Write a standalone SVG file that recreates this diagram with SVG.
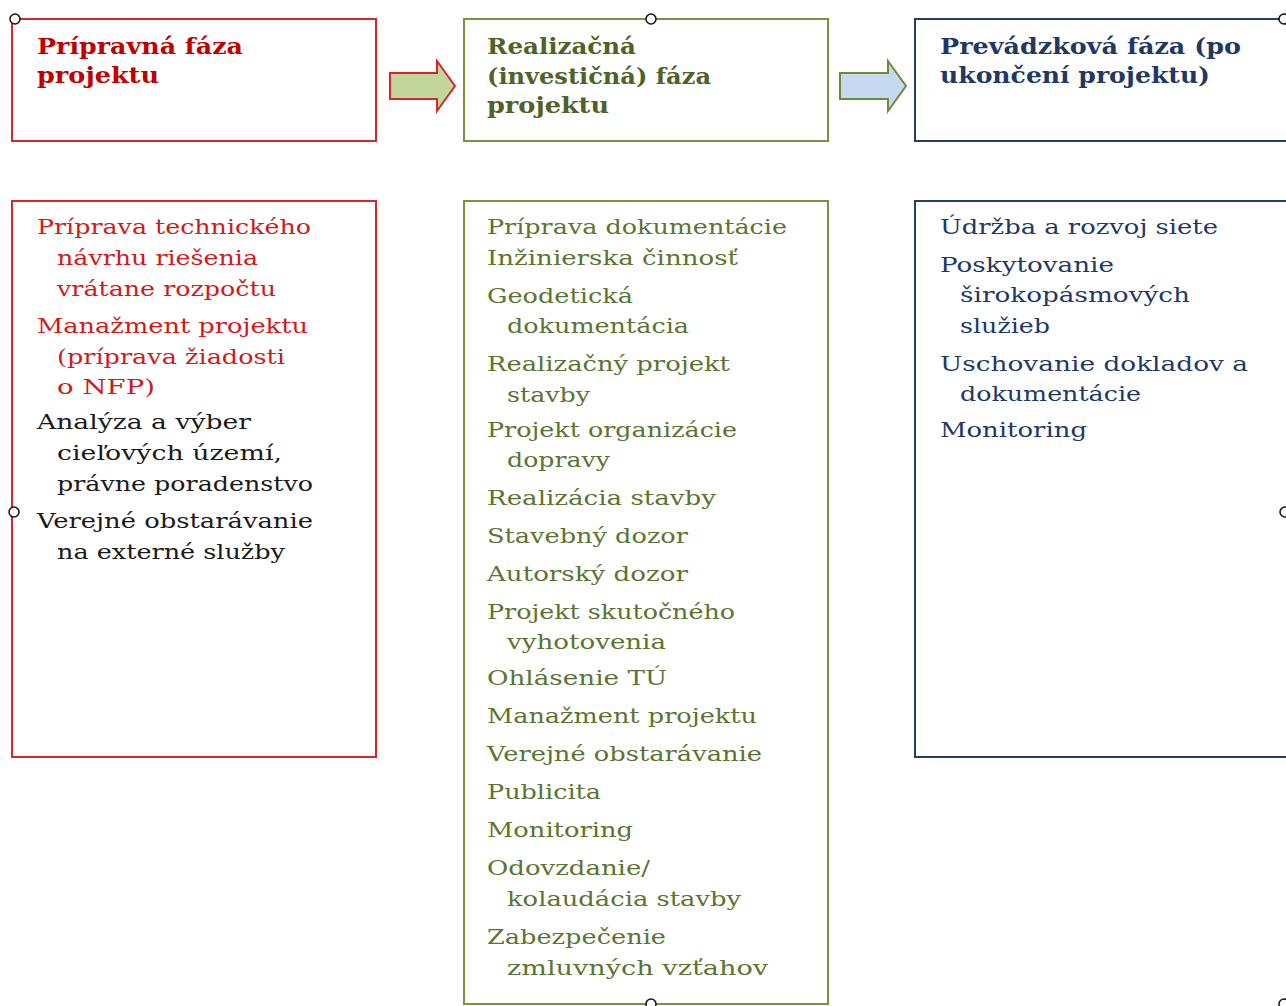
<svg xmlns="http://www.w3.org/2000/svg" width="1286" height="1006" viewBox="0 0 1286 1006">
<style>
.box{fill:#fff;stroke-width:2}
.r{stroke:#d4262b}.g{stroke:#77933c}.b{stroke:#243f60}
text{font-family:"DejaVu Serif","Liberation Serif",serif;font-size:21px}
.t{font-weight:bold;font-size:22px}
.tr{fill:#c00000}.tg{fill:#4f6228}.tb{fill:#1f3864}
.br{fill:#d01a1a}.bk{fill:#1a1a1a}.bg{fill:#5b7431}.bb{fill:#1f3864}
.h{fill:#fff;stroke:#111;stroke-width:1.5}
</style>
<rect width="1286" height="1006" fill="#fff"/>
<g id="phase1">
<rect class="box r" x="12" y="19" width="364" height="122"/>
<text class="t tr" x="37" y="54" textLength="206" lengthAdjust="spacingAndGlyphs">Prípravná fáza</text>
<text class="t tr" x="37" y="83" textLength="122" lengthAdjust="spacingAndGlyphs">projektu</text>
</g>
<g id="phase2">
<rect class="box g" x="464" y="19" width="364" height="122"/>
<text class="t tg" x="487" y="54" textLength="149" lengthAdjust="spacingAndGlyphs">Realizačná</text>
<text class="t tg" x="487" y="84" textLength="224" lengthAdjust="spacingAndGlyphs">(investičná) fáza</text>
<text class="t tg" x="487" y="113" textLength="122" lengthAdjust="spacingAndGlyphs">projektu</text>
</g>
<g id="phase3">
<rect class="box b" x="915" y="19" width="372" height="122"/>
<text class="t tb" x="940" y="54" textLength="301" lengthAdjust="spacingAndGlyphs">Prevádzková fáza (po</text>
<text class="t tb" x="940" y="83" textLength="270" lengthAdjust="spacingAndGlyphs">ukončení projektu)</text>
</g>
<g id="connectors">
<polygon points="390,73 437,73 437,61 455,86 437,111 437,99 390,99" fill="#c3d69b" stroke="#d4262b" stroke-width="2" stroke-linejoin="miter"/>
<polygon points="840,73 888,73 888,61 906,86 888,111 888,99 840,99" fill="#c6d9f1" stroke="#6b8a3a" stroke-width="2"/>
</g>
<g id="list1">
<rect class="box r" x="12" y="201" width="364" height="556"/>
<text class="br" x="37" y="234" textLength="274" lengthAdjust="spacingAndGlyphs">Príprava technického</text>
<text class="br" x="57" y="265" textLength="201" lengthAdjust="spacingAndGlyphs">návrhu riešenia</text>
<text class="br" x="57" y="296" textLength="219" lengthAdjust="spacingAndGlyphs">vrátane rozpočtu</text>
<text class="br" x="37" y="333" textLength="271" lengthAdjust="spacingAndGlyphs">Manažment projektu</text>
<text class="br" x="57" y="364" textLength="228" lengthAdjust="spacingAndGlyphs">(príprava žiadosti</text>
<text class="br" x="57" y="394" textLength="98" lengthAdjust="spacingAndGlyphs">o NFP)</text>
<text class="bk" x="37" y="429" textLength="214" lengthAdjust="spacingAndGlyphs">Analýza a výber</text>
<text class="bk" x="57" y="460" textLength="225" lengthAdjust="spacingAndGlyphs">cieľových území,</text>
<text class="bk" x="57" y="491" textLength="256" lengthAdjust="spacingAndGlyphs">právne poradenstvo</text>
<text class="bk" x="37" y="528" textLength="276" lengthAdjust="spacingAndGlyphs">Verejné obstarávanie</text>
<text class="bk" x="57" y="559" textLength="228" lengthAdjust="spacingAndGlyphs">na externé služby</text>
</g>
<g id="list2">
<rect class="box g" x="464" y="201" width="364" height="803"/>
<text class="bg" x="487" y="234" textLength="300" lengthAdjust="spacingAndGlyphs">Príprava dokumentácie</text>
<text class="bg" x="487" y="265" textLength="251" lengthAdjust="spacingAndGlyphs">Inžinierska činnosť</text>
<text class="bg" x="487" y="303" textLength="146" lengthAdjust="spacingAndGlyphs">Geodetická</text>
<text class="bg" x="507" y="333" textLength="182" lengthAdjust="spacingAndGlyphs">dokumentácia</text>
<text class="bg" x="487" y="371" textLength="243" lengthAdjust="spacingAndGlyphs">Realizačný projekt</text>
<text class="bg" x="507" y="402" textLength="83" lengthAdjust="spacingAndGlyphs">stavby</text>
<text class="bg" x="487" y="437" textLength="250" lengthAdjust="spacingAndGlyphs">Projekt organizácie</text>
<text class="bg" x="507" y="467" textLength="103" lengthAdjust="spacingAndGlyphs">dopravy</text>
<text class="bg" x="487" y="505" textLength="229" lengthAdjust="spacingAndGlyphs">Realizácia stavby</text>
<text class="bg" x="487" y="543" textLength="201" lengthAdjust="spacingAndGlyphs">Stavebný dozor</text>
<text class="bg" x="487" y="581" textLength="201" lengthAdjust="spacingAndGlyphs">Autorský dozor</text>
<text class="bg" x="487" y="619" textLength="248" lengthAdjust="spacingAndGlyphs">Projekt skutočného</text>
<text class="bg" x="507" y="649" textLength="159" lengthAdjust="spacingAndGlyphs">vyhotovenia</text>
<text class="bg" x="487" y="685" textLength="180" lengthAdjust="spacingAndGlyphs">Ohlásenie TÚ</text>
<text class="bg" x="487" y="723" textLength="270" lengthAdjust="spacingAndGlyphs">Manažment projektu</text>
<text class="bg" x="487" y="761" textLength="275" lengthAdjust="spacingAndGlyphs">Verejné obstarávanie</text>
<text class="bg" x="487" y="799" textLength="114" lengthAdjust="spacingAndGlyphs">Publicita</text>
<text class="bg" x="487" y="837" textLength="146" lengthAdjust="spacingAndGlyphs">Monitoring</text>
<text class="bg" x="487" y="875" textLength="163" lengthAdjust="spacingAndGlyphs">Odovzdanie/</text>
<text class="bg" x="507" y="906" textLength="234" lengthAdjust="spacingAndGlyphs">kolaudácia stavby</text>
<text class="bg" x="487" y="944" textLength="179" lengthAdjust="spacingAndGlyphs">Zabezpečenie</text>
<text class="bg" x="507" y="975" textLength="261" lengthAdjust="spacingAndGlyphs">zmluvných vzťahov</text>
</g>
<g id="list3">
<rect class="box b" x="915" y="201" width="372" height="556"/>
<text class="bb" x="940" y="234" textLength="278" lengthAdjust="spacingAndGlyphs">Údržba a rozvoj siete</text>
<text class="bb" x="940" y="272" textLength="174" lengthAdjust="spacingAndGlyphs">Poskytovanie</text>
<text class="bb" x="960" y="302" textLength="230" lengthAdjust="spacingAndGlyphs">širokopásmových</text>
<text class="bb" x="960" y="333" textLength="90" lengthAdjust="spacingAndGlyphs">služieb</text>
<text class="bb" x="940" y="371" textLength="308" lengthAdjust="spacingAndGlyphs">Uschovanie dokladov a</text>
<text class="bb" x="960" y="401" textLength="181" lengthAdjust="spacingAndGlyphs">dokumentácie</text>
<text class="bb" x="940" y="437" textLength="147" lengthAdjust="spacingAndGlyphs">Monitoring</text>
</g>
<g id="handles">
<circle class="h" cx="15" cy="19" r="5"/>
<circle class="h" cx="651" cy="19" r="5"/>
<circle class="h" cx="1284" cy="19" r="5"/>
<circle class="h" cx="14" cy="512" r="5"/>
<circle class="h" cx="1285" cy="512" r="5"/>
<circle class="h" cx="651" cy="1004" r="5"/>
<circle class="h" cx="1284" cy="1004" r="5"/>
</g>
</svg>
